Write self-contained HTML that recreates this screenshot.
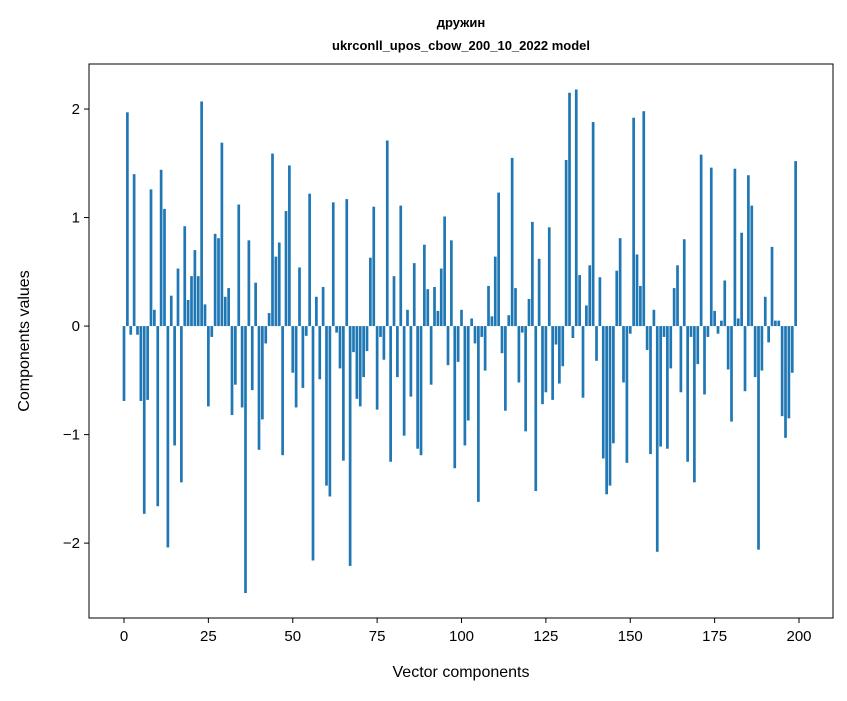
<!DOCTYPE html>
<html><head><meta charset="utf-8"><style>
body{margin:0;background:#fff;font-family:"Liberation Sans","DejaVu Sans",sans-serif}
svg text{font-family:"Liberation Sans","DejaVu Sans",sans-serif}
</style></head><body>
<svg id="chart" width="847" height="696" xmlns="http://www.w3.org/2000/svg">
<rect width="847" height="696" fill="#fff"/>
<text x="461" y="27" text-anchor="middle" font-size="13" font-weight="bold">дружин</text>
<text x="461" y="50" text-anchor="middle" font-size="13" font-weight="bold">ukrconll_upos_cbow_200_10_2022 model</text>
<g id="bars"></g>
<g id="axes"></g>
<rect x="89" y="64" width="744" height="554" fill="none" stroke="#000" stroke-width="1"/>
<text x="461" y="677" text-anchor="middle" font-size="16">Vector components</text>
<text transform="translate(29,341) rotate(-90)" text-anchor="middle" font-size="16">Components values</text>
</svg>
<script>
const values=[-0.69,1.97,-0.08,1.40,-0.08,-0.69,-1.73,-0.68,1.26,0.15,-1.66,1.44,1.08,-2.04,0.28,-1.10,0.53,-1.44,0.92,0.24,0.46,0.70,0.46,2.07,0.20,-0.74,-0.10,0.85,0.81,1.69,0.27,0.35,-0.82,-0.54,1.12,-0.75,-2.46,0.79,-0.59,0.40,-1.14,-0.86,-0.16,0.12,1.59,0.64,0.77,-1.19,1.06,1.48,-0.43,-0.75,0.54,-0.57,-0.09,1.22,-2.16,0.27,-0.49,0.36,-1.47,-1.57,1.14,-0.06,-0.39,-1.24,1.17,-2.21,-0.24,-0.67,-0.74,-0.47,-0.23,0.63,1.10,-0.77,-0.10,-0.31,1.71,-1.25,0.46,-0.47,1.11,-1.01,0.15,-0.65,0.58,-1.13,-1.19,0.75,0.34,-0.54,0.36,0.14,0.53,1.01,-0.36,0.79,-1.31,-0.33,0.15,-1.10,-0.87,0.07,-0.16,-1.62,-0.10,-0.41,0.37,0.09,0.64,1.23,-0.25,-0.78,0.10,1.55,0.35,-0.52,-0.06,-0.97,0.25,0.96,-1.52,0.62,-0.72,-0.61,0.91,-0.68,-0.17,-0.53,-0.37,1.53,2.15,-0.11,2.18,0.47,-0.66,0.19,0.56,1.88,-0.32,0.45,-1.22,-1.55,-1.47,-1.08,0.51,0.81,-0.52,-1.26,-0.07,1.92,0.66,0.37,1.98,-0.22,-1.18,0.15,-2.08,-1.11,-0.10,-1.13,-0.39,0.35,0.56,-0.61,0.80,-1.25,-0.10,-1.44,-0.35,1.58,-0.63,-0.10,1.46,0.14,-0.07,0.05,0.42,-0.40,-0.88,1.45,0.07,0.86,-0.60,1.39,1.11,-0.47,-2.06,-0.41,0.27,-0.15,0.73,0.05,0.05,-0.83,-1.03,-0.85,-0.43,1.52];
const xTicks=[0,25,50,75,100,125,150,175,200];
const yTicks=[-2,-1,0,1,2];
const xMin=-10.37,xMax=210.07,yMin=-2.69,yMax=2.415;
const L=89,R=833,T=64,B=618;
const sx=v=>L+(v-xMin)/(xMax-xMin)*(R-L);
const sy=v=>B-(v-yMin)/(yMax-yMin)*(B-T);
const NS="http://www.w3.org/2000/svg";
const bars=document.getElementById('bars'),axes=document.getElementById('axes');
const bw=sx(0.8)-sx(0);
values.forEach((v,i)=>{
 const r=document.createElementNS(NS,'rect');
 
 
 const y0=sy(0),y1=sy(v);
 r.setAttribute('x',sx(i)-bw/2);r.setAttribute('width',bw);
 r.setAttribute('y',Math.min(y0,y1));r.setAttribute('height',Math.abs(y1-y0));
 r.setAttribute('fill','#1f77b4');
 bars.appendChild(r);
});
xTicks.forEach(t=>{
 const x=sx(t);
 const l=document.createElementNS(NS,'line');
 
 
 l.setAttribute('x1',x);l.setAttribute('x2',x);l.setAttribute('y1',B);l.setAttribute('y2',B+5);l.setAttribute('stroke','#000');
 axes.appendChild(l);
 const tx=document.createElementNS(NS,'text');
 
 
 tx.setAttribute('x',x);tx.setAttribute('y',B+23);tx.setAttribute('text-anchor','middle');tx.setAttribute('font-size','15');
 tx.textContent=t;axes.appendChild(tx);
});
yTicks.forEach(t=>{
 const y=sy(t);
 const l=document.createElementNS(NS,'line');
 
 
 l.setAttribute('x1',L-5);l.setAttribute('x2',L);l.setAttribute('y1',y);l.setAttribute('y2',y);l.setAttribute('stroke','#000');
 axes.appendChild(l);
 const tx=document.createElementNS(NS,'text');
 
 
 tx.setAttribute('x',L-9);tx.setAttribute('y',y+5);tx.setAttribute('text-anchor','end');tx.setAttribute('font-size','15');
 tx.textContent=t<0?'\u2212'+(-t):t;axes.appendChild(tx);
});
</script>
</body></html>
